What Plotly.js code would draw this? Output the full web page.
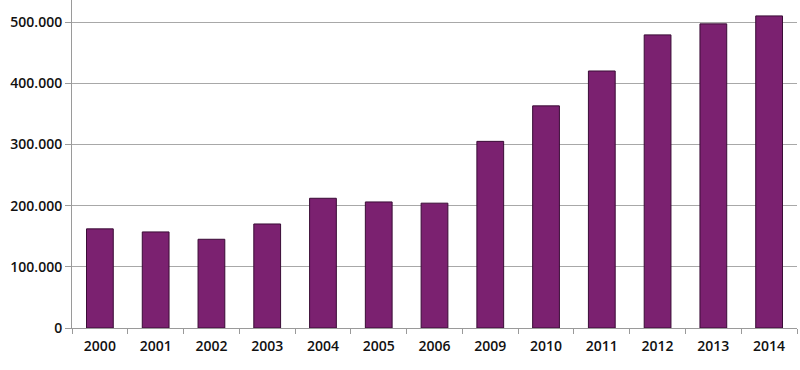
<!DOCTYPE html>
<html><head><meta charset="utf-8">
<script src="https://cdn.plot.ly/plotly-3.0.1.min.js"></script>
<style>html,body{margin:0;padding:0;background:#fff}#chart{width:800px;height:370px}</style>
</head><body><div id="chart"></div>
<script>
const years = ['2000','2001','2002','2003','2004','2005','2006','2009','2010','2011','2012','2013','2014'];
const values = [162000,157000,145000,170000,212000,206000,204000,305000,363000,420000,479000,497000,510000];
const yTicks = [0,100000,200000,300000,400000,500000];

Plotly.newPlot('chart', [{
  type: 'bar', x: years, y: values,
  marker: {color: '#7b2170', line: {color: '#3a0c36', width: 1}},
  hoverinfo: 'skip'
}], {
  width: 800, height: 370,
  margin: {l: 72, r: 3, t: 0, b: 42},
  separators: ',.',
  bargap: 0.52,
  paper_bgcolor: '#fff', plot_bgcolor: '#fff',
  font: {family: 'Open Sans, sans-serif', size: 14, color: '#111', weight: 600},
  showlegend: false,
  xaxis: {type: 'category', showline: true, linecolor: '#9a9a9a', linewidth: 1,
          ticks: 'outside', tickson: 'boundaries', ticklen: 5, tickcolor: '#9a9a9a',
          showgrid: false, ticklabelstandoff: 5,
          tickfont: {family: 'Open Sans, sans-serif', size: 14, color: '#111', weight: 600}},
  yaxis: {range: [0, 536000], tickvals: yTicks, tickformat: ',d',
          showline: true, linecolor: '#9a9a9a', linewidth: 1,
          ticks: 'outside', ticklen: 6, tickcolor: '#9a9a9a',
          showgrid: true, gridcolor: '#a8a8a8', gridwidth: 1, zeroline: false,
          tickfont: {family: 'Open Sans, sans-serif', size: 14, color: '#111', weight: 600}}
}, {displayModeBar: false, staticPlot: true});
</script></body></html>
